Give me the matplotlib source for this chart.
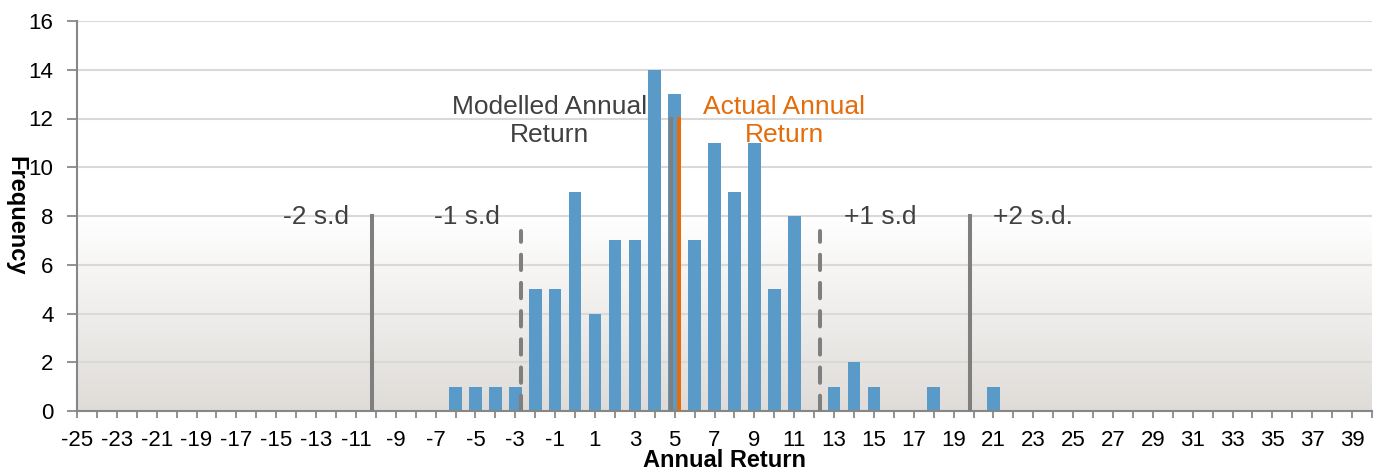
import numpy as np
import matplotlib.pyplot as plt
from matplotlib.colors import LinearSegmentedColormap

plt.rcParams['font.family'] = ['Liberation Sans', 'DejaVu Sans']

# data
returns = [-6, -5, -4, -3, -2, -1, 0, 1, 2, 3, 4, 5, 6, 7, 8, 9, 10, 11, 13, 14, 15, 18, 21]
counts = [1, 1, 1, 1, 5, 5, 9, 4, 7, 7, 14, 13, 7, 11, 9, 11, 5, 8, 1, 2, 1, 1, 1]
x_min, x_max = -25, 40
tick_labels = [str(v) if v % 2 else '' for v in range(x_min, x_max + 1)]

modelled_mean = 4.8
actual_return = 5.2
sd = 7.5
sd_names = ['-2 s.d', '-1 s.d', '+1 s.d', '+2 s.d.']
sd_mult = [-2, -1, 1, 2]
sd_heights = [8, 7.4, 7.4, 8]
sd_styles = ['-', (0, (3.8, 3.2)), (0, (3.8, 3.2)), '-']
sd_label_x = [-13.0, -5.45, 15.3, 23.0]

fig = plt.figure(figsize=(13.8, 4.72), dpi=100)
ax = fig.add_axes([77 / 1380, 1 - 411 / 472, 1295 / 1380, 390 / 472])

# background gradient (white above 8, fading to grey at the bottom)
cmap = LinearSegmentedColormap.from_list('bg', ['#dfdcd8', '#ffffff'])
grad = np.linspace(0, 1, 256).reshape(-1, 1)
ax.imshow(grad, extent=[x_min, x_max, 0, 8], origin='lower', aspect='auto',
          cmap=cmap, zorder=0)

ax.set_xlim(x_min, x_max)
ax.set_ylim(0, 16)
ax.set_yticks(range(0, 17, 2))
ax.yaxis.grid(True, color='#d9d9d9', linewidth=1.5, zorder=0.5)
ax.set_axisbelow(True)

ax.bar(returns, counts, width=0.63, color='#5a9ac8', zorder=2)

grey = '#7f7f7f'
for m, h, ls in zip(sd_mult, sd_heights, sd_styles):
    ax.plot([modelled_mean + m * sd] * 2, [0, h], color=grey, lw=2.9,
            linestyle=ls, dash_capstyle='round', zorder=3)
ax.plot([modelled_mean] * 2, [0, 12], color=grey, lw=2.9, zorder=3)
ax.plot([actual_return] * 2, [0, 12], color='#e46c0a', lw=2.9, zorder=3)

for name, lx in zip(sd_names, sd_label_x):
    ax.text(lx, 7.95, name, ha='center', va='center', fontsize=19, color='#404040')
ax.text(-1.3, 11.9, 'Modelled Annual\nReturn', ha='center', va='center',
        fontsize=19, color='#404040', linespacing=1.25)
ax.text(10.5, 11.9, 'Actual Annual\nReturn', ha='center', va='center',
        fontsize=19, color='#e46c0a', linespacing=1.25)

ax.set_xticks(range(x_min, x_max + 1))
ax.set_xticklabels(tick_labels)
ax.tick_params(axis='x', length=5, width=1.2, color=grey, labelsize=16, pad=9)
ax.tick_params(axis='y', length=7, width=1.2, color=grey, labelsize=16, pad=10)

for s in ['top', 'right']:
    ax.spines[s].set_visible(False)
for s in ['left', 'bottom']:
    ax.spines[s].set_color('#868686')
    ax.spines[s].set_linewidth(1.5)

fig.text(724 / 1380, 1 - 449 / 472, 'Annual Return', ha='center', va='top',
         fontsize=17, fontweight='bold')
fig.text(16 / 1380, 1 - 216 / 472, 'Frequency', ha='center', va='center',
         rotation=270, fontsize=17, fontweight='bold')

fig.savefig('out.png', dpi=100)
